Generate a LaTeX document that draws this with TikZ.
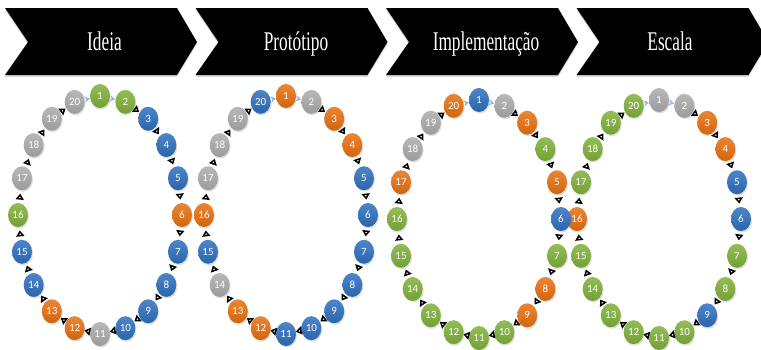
\documentclass[tikz,border=0pt]{standalone}
\usepackage{fontspec}
\setmainfont{Liberation Serif}
\newfontfamily\beadfont{Carlito}
\usetikzlibrary{shapes,arrows.meta,positioning,calc,shadows,decorations.markings}

\definecolor{beadgreen}{RGB}{128,178,58}
\definecolor{beadblue}{RGB}{46,112,192}
\definecolor{beadorange}{RGB}{232,112,16}
\definecolor{beadgray}{RGB}{172,172,172}
\definecolor{linkblue}{RGB}{150,180,225}

\begin{document}
\begin{tikzpicture}[x=1pt, y=-1pt]
  \tikzstyle{chevron} = [fill=black, drop shadow={shadow xshift=0pt, shadow yshift=-2pt, opacity=0.3}]
  \tikzstyle{stagetext} = [text=white, anchor=base, xscale=0.64, font=\fontsize{27}{27}\selectfont]
  \tikzstyle{bead} = [ellipse, minimum width=20pt, minimum height=24pt, inner sep=0pt, text=white, font=\beadfont\fontsize{11}{11}\selectfont, drop shadow={shadow xshift=1pt, shadow yshift=-1.5pt, opacity=0.25}]
  \tikzstyle{link} = [postaction=decorate, decoration={markings, mark=at position 0.5 with {\arrow[xshift=3pt]{Triangle[open, length=6pt, width=8pt, line width=1.6pt, color=black, fill=white]}}}]
  \tikzstyle{toplink} = [postaction=decorate, decoration={markings, mark=at position 0.5 with {\arrow[xshift=2.5pt]{Stealth[length=5pt, width=6pt, color=linkblue]}}}]

  \useasboundingbox (0,0) rectangle (761,349);
  \clip (0,0) rectangle (761,349);

  % process row
  \foreach \x/\tx/\name/\label in {5/104.5/ideia/Ideia, 195.5/296/prototipo/Protótipo, 386/486/implementacao/Implementação, 576.5/670/escala/Escala} {
    \fill[chevron] (\x,8) -- ++(172,0) -- ++(20,34) -- ++(-20,33) -- ++(-172,0) -- ++(23,-33) -- cycle;
    \node[stagetext] (\name) at (\tx,50) {\label};
  }

  % one ring of 20 beads per stage
  \foreach \ring/\cx/\cy/\colors in {
      1/100/215/{green,green,blue,blue,blue,orange,blue,blue,blue,blue,gray,orange,orange,blue,blue,green,gray,gray,gray,gray},
      2/286/215/{orange,gray,orange,orange,blue,blue,blue,blue,blue,blue,blue,orange,orange,gray,blue,orange,gray,gray,gray,blue},
      4/659/219/{gray,gray,orange,orange,blue,blue,green,green,blue,green,green,green,green,green,green,orange,green,green,green,green},
      3/479/219/{blue,gray,orange,green,orange,blue,green,orange,orange,green,green,green,green,green,green,green,orange,gray,gray,orange}} {
    \foreach \c [count=\k] in \colors {
      \node[bead, top color=bead\c!85!white, bottom color=bead\c!90!black] (r\ring-\k)
        at ({\cx+82*sin((\k-1)*18)}, {\cy-119*cos((\k-1)*18)}) {\k};
    }
    \path[toplink] (r\ring-20) -- (r\ring-1);
    \path[toplink] (r\ring-1) -- (r\ring-2);
    \foreach \k in {2,...,19} {
      \pgfmathtruncatemacro{\nextk}{\k+1}
      \path[link] (r\ring-\k) -- (r\ring-\nextk);
    }
  }
\end{tikzpicture}
\end{document}
